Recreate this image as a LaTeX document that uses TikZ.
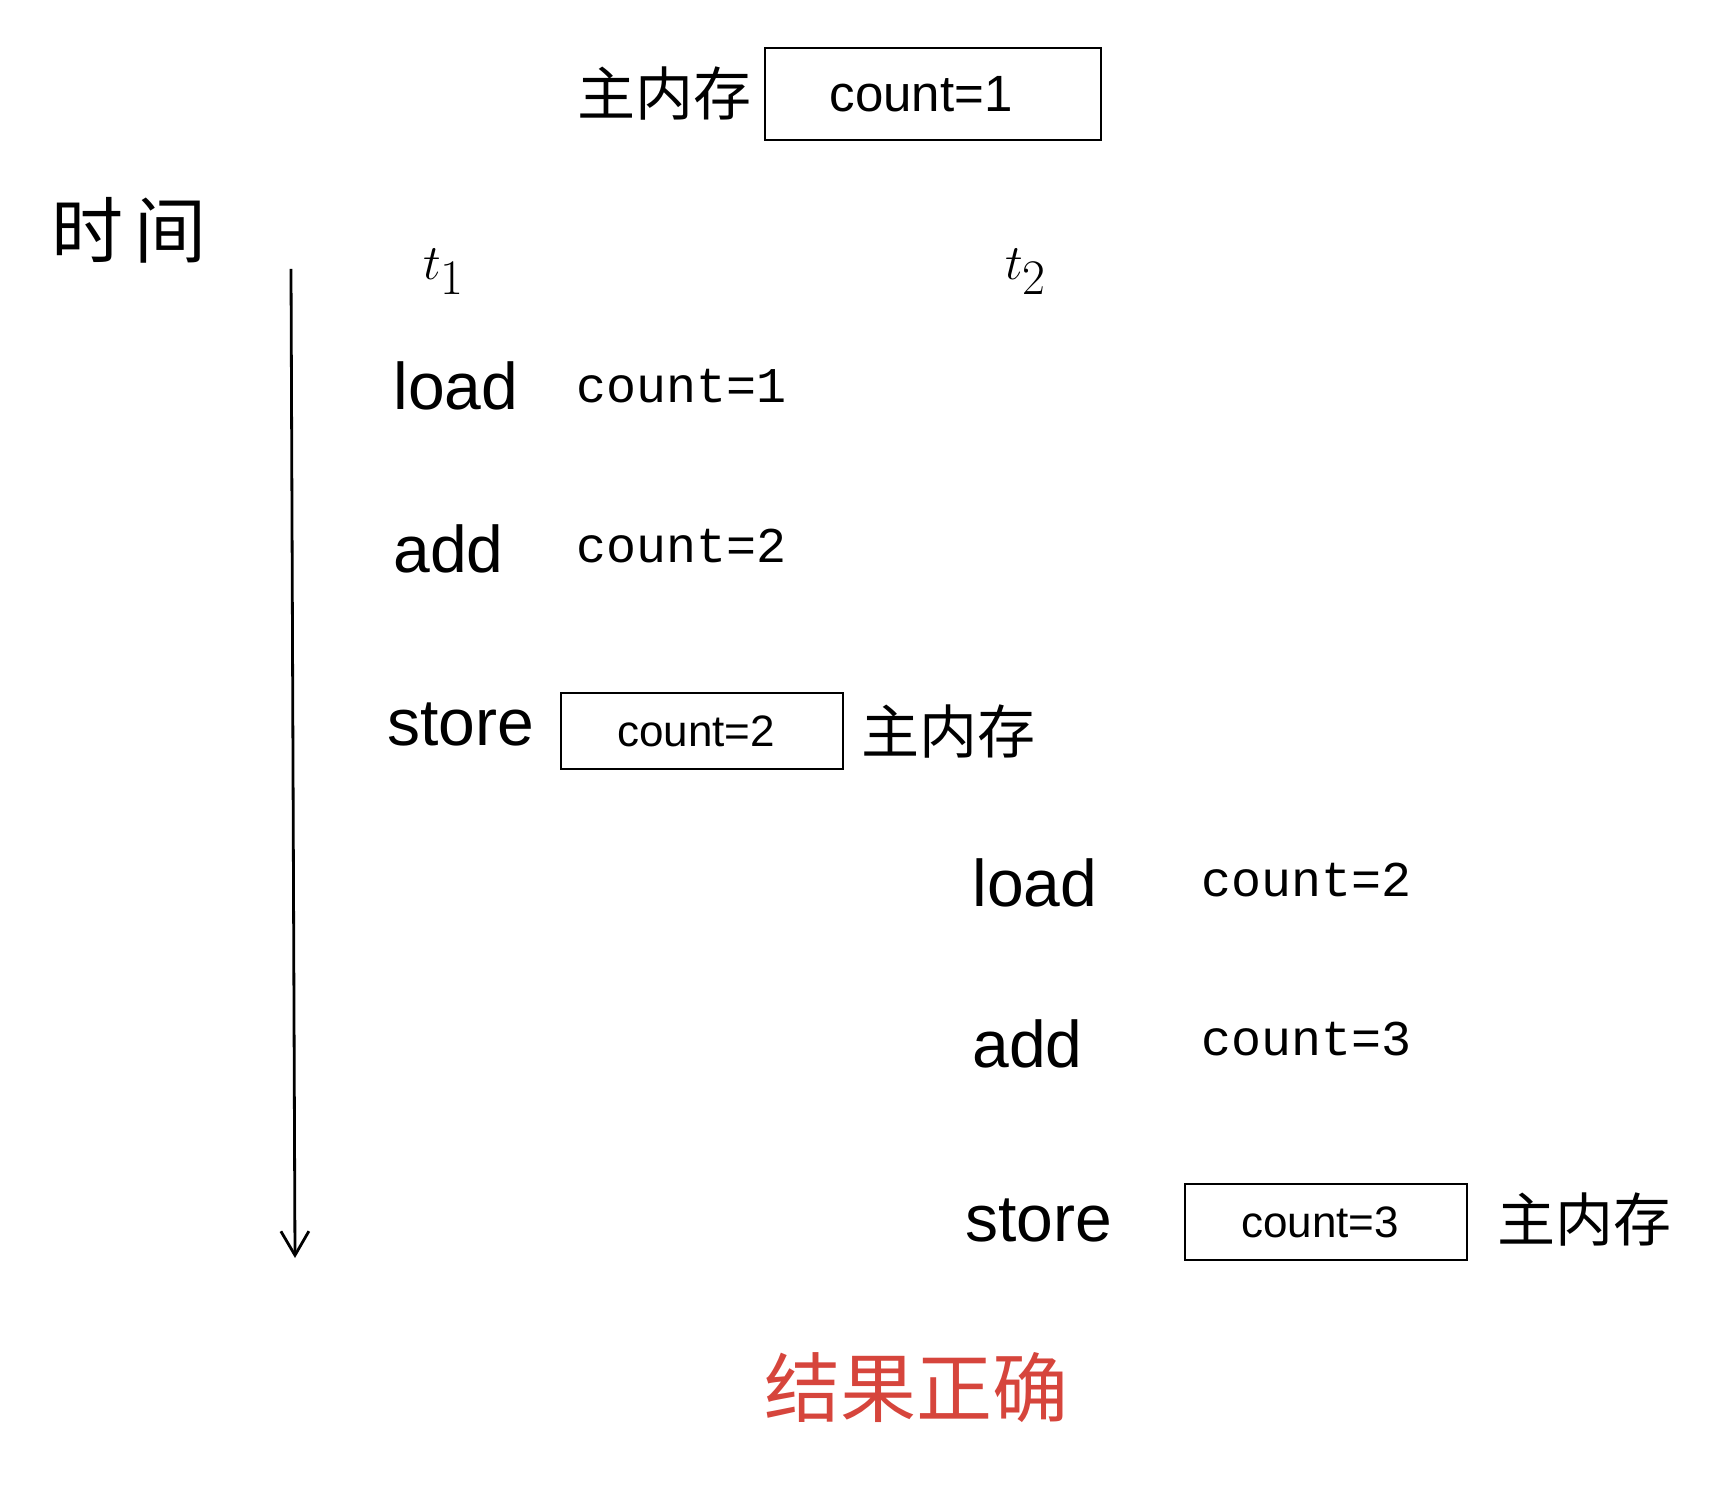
\documentclass[tikz,border=0pt]{standalone}
\usepackage{fontspec}
\setmainfont{Liberation Sans}
\newfontfamily\cjk{Noto Sans CJK SC}
\newfontfamily\hand{Liberation Mono}
\usepackage{tikz}
\usetikzlibrary{arrows.meta,positioning}
\definecolor{okred}{RGB}{214,69,60}
\tikzset{
  membox/.style={draw, line width=0.9pt, minimum width=141pt, minimum height=38pt, align=center, font=\fontsize{22}{26}\selectfont},
  op/.style={anchor=west, inner sep=0pt, font=\fontsize{33}{40}\selectfont},
  val/.style={anchor=west, inner sep=0pt, font=\hand\fontsize{25}{30}\selectfont},
  memlbl/.style={inner sep=0pt, font=\cjk\fontsize{29}{34}\selectfont},
  thr/.style={inner sep=0pt, font=\fontsize{44}{50}\selectfont},
  timearr/.style={-{Straight Barb[length=12pt,width=14pt]}, line width=1.4pt}
}
\begin{document}
\begin{tikzpicture}[x=0.5pt,y=-0.5pt]
\useasboundingbox (0,0) rectangle (1720,1486);
% main memory at start
\node[membox, minimum width=168pt, minimum height=46pt, font=\fontsize{25.5}{30}\selectfont] (mem1) at (933,94) {count=1\hspace{12pt}};
\node[memlbl, left=6pt of mem1] (mem1lbl) {主内存};
% time axis
\node[inner sep=0pt, font=\cjk\fontsize{36}{40}\selectfont] (time) at (129,230) {时\,间};
\coordinate (tstart) at (291,269);
\coordinate (tend) at (295,1258);
\draw[timearr] (tstart) -- (tend);
% threads
\node[thr] (t1) at (444,272) {$t_1$};
\node[thr] (t2) at (1026,272) {$t_2$};
% thread 1
\node[op] (load1) at (393,386) {load};
\node[val] (val1) at (576,386) {count=1};
\node[op] (add1) at (393,549) {add};
\node[val] (val2) at (576,546) {count=2};
\node[op] (store1) at (387,724) {store};
\node[membox] (mem2) at (702,731) {count=2\hspace{6pt}};
\node[memlbl, anchor=west] (mem2lbl) at (861,732) {主内存};
% thread 2
\node[op] (load2) at (972,883) {load};
\node[val] (val3) at (1201,880) {count=2};
\node[op] (add2) at (972,1044) {add};
\node[val] (val4) at (1201,1039) {count=3};
\node[op] (store2) at (965,1220) {store};
\node[membox] (mem3) at (1326,1222) {count=3\hspace{6pt}};
\node[memlbl, anchor=west] (mem3lbl) at (1497,1220) {主内存};
% result
\node[inner sep=0pt, text=okred, font=\cjk\fontsize{38}{42}\selectfont] (result) at (916,1388) {结果正确};
\end{tikzpicture}
\end{document}
